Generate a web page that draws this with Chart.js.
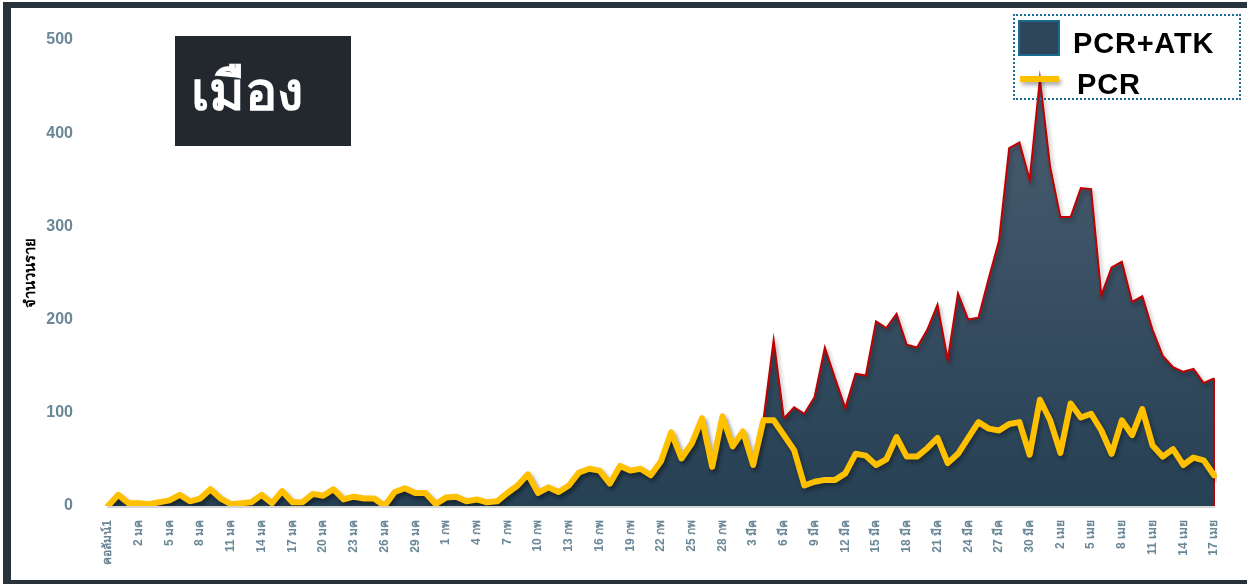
<!DOCTYPE html>
<html>
<head>
<meta charset="utf-8">
<script src="https://cdn.jsdelivr.net/npm/chart.js@4/dist/chart.umd.min.js"></script>
<style>
  body { margin: 0; background: #fff; }
  #wrap { position: relative; width: 1247px; height: 584px; overflow: hidden; font-family: 'Liberation Sans', 'Noto Sans', sans-serif; }
  #c { position: absolute; left: 0; top: 0; }
  .frame { position: absolute; background: #27323a; }
  #title { position: absolute; left: 175px; top: 36px; width: 176px; height: 110px; background: #22282e;
           color: #fff; font-weight: bold; font-size: 54px; line-height: 110px; padding-left: 16px; box-sizing: border-box; }
  #legend { position: absolute; left: 1013px; top: 14px; width: 228px; height: 86px; border: 2px dotted #1a6e99; box-sizing: border-box; }
  .lg-text { position: absolute; font-weight: bold; font-size: 29px; color: #000; line-height: 30px; letter-spacing: 0.8px; }
</style>
</head>
<body>
<div id="wrap">
  <canvas id="c" width="1247" height="584"></canvas>
  <div class="frame" style="left:3px;top:2px;width:8px;height:582px"></div>
  <div class="frame" style="left:3px;top:2px;width:1244px;height:6px"></div>
  <div class="frame" style="left:3px;top:580px;width:1244px;height:4px"></div>
  <div id="title">เมือง</div>
  <div id="legend"></div>
  <div style="position:absolute;left:1018px;top:20px;width:42px;height:36px;background:#2e4659;border:2px solid #1a6a8f;box-sizing:border-box"></div>
  <div class="lg-text" style="left:1073px;top:28px">PCR+ATK</div>
  <div style="position:absolute;left:1020px;top:76px;width:39px;height:6px;background:#ffc000;box-shadow:2px 3px 4px rgba(0,0,0,0.35)"></div>
  <div class="lg-text" style="left:1077px;top:69px">PCR</div>
</div>
<script>
// x categories (one per day)
const labels = [
  "คอลัมน์1", "31 ธค",
  "1 มค", "2 มค", "3 มค", "4 มค", "5 มค", "6 มค", "7 มค", "8 มค", "9 มค", "10 มค",
  "11 มค", "12 มค", "13 มค", "14 มค", "15 มค", "16 มค", "17 มค", "18 มค", "19 มค", "20 มค",
  "21 มค", "22 มค", "23 มค", "24 มค", "25 มค", "26 มค", "27 มค", "28 มค", "29 มค", "30 มค", "31 มค",
  "1 กพ", "2 กพ", "3 กพ", "4 กพ", "5 กพ", "6 กพ", "7 กพ", "8 กพ", "9 กพ", "10 กพ",
  "11 กพ", "12 กพ", "13 กพ", "14 กพ", "15 กพ", "16 กพ", "17 กพ", "18 กพ", "19 กพ", "20 กพ",
  "21 กพ", "22 กพ", "23 กพ", "24 กพ", "25 กพ", "26 กพ", "27 กพ", "28 กพ",
  "1 มีค", "2 มีค", "3 มีค", "4 มีค", "5 มีค", "6 มีค", "7 มีค", "8 มีค", "9 มีค", "10 มีค",
  "11 มีค", "12 มีค", "13 มีค", "14 มีค", "15 มีค", "16 มีค", "17 มีค", "18 มีค", "19 มีค", "20 มีค",
  "21 มีค", "22 มีค", "23 มีค", "24 มีค", "25 มีค", "26 มีค", "27 มีค", "28 มีค", "29 มีค", "30 มีค", "31 มีค",
  "1 เมย", "2 เมย", "3 เมย", "4 เมย", "5 เมย", "6 เมย", "7 เมย", "8 เมย", "9 เมย", "10 เมย",
  "11 เมย", "12 เมย", "13 เมย", "14 เมย", "15 เมย", "16 เมย", "17 เมย"
];

// PCR+ATK (area)
const total = [
  0, 12, 3, 3, 2, 4, 6, 12, 5, 8, 18, 8, 2, 3, 4, 12, 3, 16, 4, 4,
  13, 11, 18, 7, 10, 8, 8, 0, 15, 19, 14, 14, 2, 9, 10, 5, 7, 4, 5, 14,
  22, 34, 14, 20, 15, 22, 36, 40, 38, 24, 43, 38, 40, 33, 48, 79, 51, 67, 94, 42,
  96, 64, 80, 44, 92, 178, 94, 106, 99, 117, 170, 137, 105, 142, 140, 198, 191, 206, 173, 170,
  189, 216, 157, 228, 200, 202, 244, 284, 384, 390, 350, 458, 364, 310, 310, 341, 340, 226, 256, 262,
  219, 225, 189, 161, 149, 144, 147, 132, 137
];

// PCR (line)
const pcr = [
  0, 12, 3, 3, 2, 4, 6, 12, 5, 8, 18, 8, 2, 3, 4, 12, 3, 16, 4, 4,
  13, 11, 18, 7, 10, 8, 8, 0, 15, 19, 14, 14, 2, 9, 10, 5, 7, 4, 5, 14,
  22, 34, 14, 20, 15, 22, 36, 40, 38, 24, 43, 38, 40, 33, 48, 79, 51, 67, 94, 42,
  96, 64, 80, 44, 92, 92, 76, 60, 22, 26, 28, 28, 35, 56, 54, 44, 50, 74, 53, 53,
  62, 73, 46, 56, 73, 90, 83, 81, 88, 90, 55, 114, 92, 57, 110, 95, 99, 81, 56, 92,
  76, 104, 65, 53, 61, 44, 52, 49, 33
];

const yTicks = [0, 100, 200, 300, 400, 500];
const yTitle = 'จำนวนราย';

const font = "'Liberation Sans', 'Noto Sans', sans-serif";
const tickColor = '#6b8797';

// drop shadow for the datasets
const shadowPlugin = {
  id: 'shadow',
  beforeDatasetDraw(chart) {
    const ctx = chart.ctx;
    ctx.save();
    ctx.shadowColor = 'rgba(0,0,0,0.35)';
    ctx.shadowBlur = 4;
    ctx.shadowOffsetX = 2;
    ctx.shadowOffsetY = 3;
  },
  afterDatasetDraw(chart) {
    chart.ctx.restore();
  }
};

// closing red edge at the right end of the area
const edgePlugin = {
  id: 'edge',
  afterDatasetDraw(chart, args) {
    if (args.index !== 1) return;
    const ctx = chart.ctx;
    const x = chart.scales.x.getPixelForValue(total.length - 1);
    ctx.save();
    ctx.strokeStyle = '#c00000';
    ctx.lineWidth = 2;
    ctx.beginPath();
    ctx.moveTo(x, chart.scales.y.getPixelForValue(total[total.length - 1]));
    ctx.lineTo(x, chart.scales.y.getPixelForValue(0));
    ctx.stroke();
    ctx.restore();
  }
};

const data = {
  labels: labels,
  datasets: [
    {
      label: 'PCR',
      data: pcr,
      borderColor: '#ffc000',
      borderWidth: 6,
      pointRadius: 0,
      tension: 0,
      fill: false,
      borderJoinStyle: 'round',
      borderCapStyle: 'round'
    },
    {
      label: 'PCR+ATK',
      data: total,
      borderColor: '#c00000',
      borderWidth: 2,
      pointRadius: 0,
      tension: 0,
      fill: 'origin',
      backgroundColor: function (context) {
        const area = context.chart.chartArea;
        if (!area) return '#2e4659';
        const g = context.chart.ctx.createLinearGradient(0, area.top, 0, area.bottom);
        g.addColorStop(0, '#4e6073');
        g.addColorStop(1, '#264054');
        return g;
      }
    }
  ]
};

const config = {
  type: 'line',
  data: data,
  plugins: [shadowPlugin, edgePlugin],
  options: {
    responsive: false,
    animation: false,
    layout: { padding: { left: 20, right: 33, top: 40, bottom: 0 } },
    plugins: {
      legend: { display: false },
      tooltip: { enabled: false },
      title: { display: false }
    },
    scales: {
      x: {
        offset: false,
        grid: { display: false },
        border: { display: true, color: '#d6d6d6', width: 3 },
        afterFit: function (scale) { scale.height = 78; },
        ticks: {
          autoSkip: false,
          maxRotation: 90,
          minRotation: 90,
          padding: 6,
          color: tickColor,
          font: { family: font, size: 12, weight: 'bold' },
          callback: function (value, index) {
            return index % 3 === 0 ? labels[index] : '';
          }
        }
      },
      y: {
        min: 0,
        max: 500,
        grid: { display: false },
        border: { display: false },
        afterFit: function (scale) { scale.width = 88; },
        afterBuildTicks: function (scale) {
          scale.ticks = yTicks.map(function (v) { return { value: v }; });
        },
        ticks: {
          padding: 27,
          color: tickColor,
          font: { family: font, size: 16, weight: 'bold' }
        },
        title: {
          display: true,
          text: yTitle,
          color: '#000',
          padding: 2,
          font: { family: font, size: 15, weight: 'bold' }
        }
      }
    }
  }
};

new Chart(document.getElementById('c').getContext('2d'), config);
</script>
</body>
</html>
